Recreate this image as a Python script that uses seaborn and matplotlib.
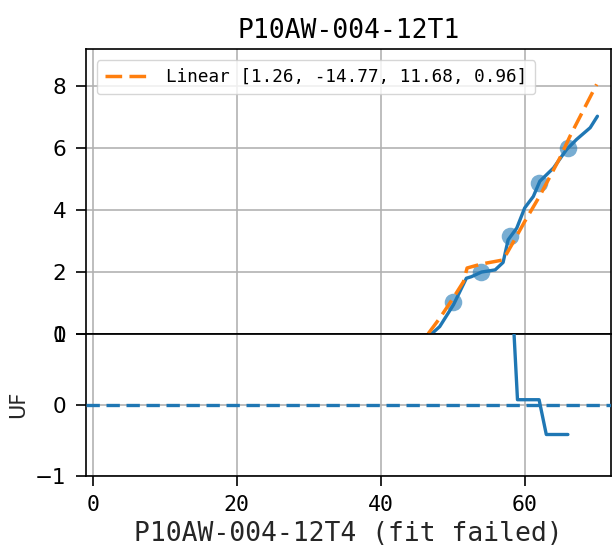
import matplotlib
matplotlib.use("Agg")
import matplotlib.pyplot as plt
import seaborn as sns

# ---- data ----
title = "P10AW-004-12T1"
xlabel = "P10AW-004-12T4 (fit failed)"
fit_label = "Linear [1.26, -14.77, 11.68, 0.96]"
resid_label = "UF"

# observed points
obs_x = [50, 54, 58, 62, 66]
obs_y = [1.02, 1.98, 3.16, 4.87, 5.99]

# measured curve
curve_x = [47.1, 48.2, 50.1, 51.9, 52.6, 54.0, 55.9, 57.0, 57.7, 58.9,
           60.0, 61.2, 62.1, 64.0, 65.8, 67.2, 69.1, 70.1]
curve_y = [0.0, 0.23, 0.93, 1.79, 1.84, 1.99, 2.06, 2.30, 3.03, 3.41,
           4.06, 4.43, 4.92, 5.35, 5.94, 6.27, 6.65, 7.02]

# linear model curve
fit_x = [46.6, 48.2, 49.9, 51.5, 52.0, 54.0, 57.0, 58.4, 60.0, 62.1,
         64.9, 66.3, 70.0]
fit_y = [0.0, 0.50, 1.09, 1.68, 2.12, 2.25, 2.38, 2.95, 3.62, 4.45,
         5.68, 6.38, 8.05]

# lower panel
uf_x = [58, 59, 62, 63, 66]
uf_y = [2.0, 0.07, 0.07, -0.42, -0.42]

x_ticks = [0, 20, 40, 60]
top_yticks = [0, 2, 4, 6, 8]
bottom_yticks = [-1, 0, 1]

BLUE = "#1f77b4"
ORANGE = "#ff7f0e"
MONO = "DejaVu Sans Mono"

sns.set_style("white")
plt.rcParams.update({
    "font.family": ["DejaVu Sans"],
    "axes.edgecolor": "black",
    "axes.linewidth": 1.2,
    "xtick.color": "black",
    "ytick.color": "black",
    "text.color": "black",
    "xtick.major.size": 7,
    "ytick.major.size": 7,
    "xtick.major.width": 1.2,
    "ytick.major.width": 1.2,
    "xtick.major.pad": 7,
    "ytick.major.pad": 7,
    "xtick.bottom": True,
    "ytick.left": True,
})

fig = plt.figure(figsize=(6.13, 5.51), dpi=100)
gs = fig.add_gridspec(2, 1, height_ratios=[284.4, 142.0], hspace=0,
                      left=0.1398, right=0.9963, top=0.9105, bottom=0.1367)
ax1 = fig.add_subplot(gs[0])
ax2 = fig.add_subplot(gs[1], sharex=ax1)

# upper panel
sns.scatterplot(x=obs_x, y=obs_y, ax=ax1, s=160, color=BLUE, alpha=0.6,
                linewidth=0, zorder=3)
sns.lineplot(x=curve_x, y=curve_y, ax=ax1, color=BLUE, linewidth=2.4,
             zorder=4)
sns.lineplot(x=fit_x, y=fit_y, ax=ax1, color=ORANGE, linewidth=2.5,
             label=fit_label, zorder=5)
ax1.lines[-1].set_dashes((4.8, 2.1))

ax1.set_ylim(0, 9.18)
ax1.set_yticks(top_yticks)
ax1.tick_params(axis="y", labelsize=15.5)
ax1.tick_params(axis="x", bottom=False, labelbottom=False)
ax1.grid(True, color="#b0b0b0", linewidth=1.15)
ax1.set_axisbelow(True)
ax1.set_title(title, fontfamily=MONO, fontsize=19, pad=8)
leg = ax1.legend(loc="upper left", prop={"family": MONO, "size": 12.7},
                 handlelength=2.5, handletextpad=1.0, borderaxespad=0.62,
                 borderpad=0.45, fancybox=True, framealpha=0.8)

# lower panel
sns.lineplot(x=uf_x, y=uf_y, ax=ax2, color=BLUE, linewidth=2.4, zorder=4)
ax2.axhline(0, color=BLUE, linewidth=2.4, linestyle=(0, (4.0, 2.0)), zorder=3)
ax2.set_ylim(-1, 1)
ax2.set_yticks(bottom_yticks)
ax2.set_xlim(-0.97, 71.95)
ax2.set_xticks(x_ticks)
ax2.tick_params(axis="y", labelsize=15.5)
for lab in ax2.get_xticklabels():
    lab.set_fontfamily(MONO)
    lab.set_fontsize(15.5)
ax2.grid(True, color="#b0b0b0", linewidth=1.15)
ax2.set_axisbelow(True)
ax2.set_ylabel(resid_label, fontsize=15, labelpad=5)
ax2.set_xlabel(xlabel, fontfamily=MONO, fontsize=19, labelpad=4)

fig.savefig("out.png", dpi=100)
